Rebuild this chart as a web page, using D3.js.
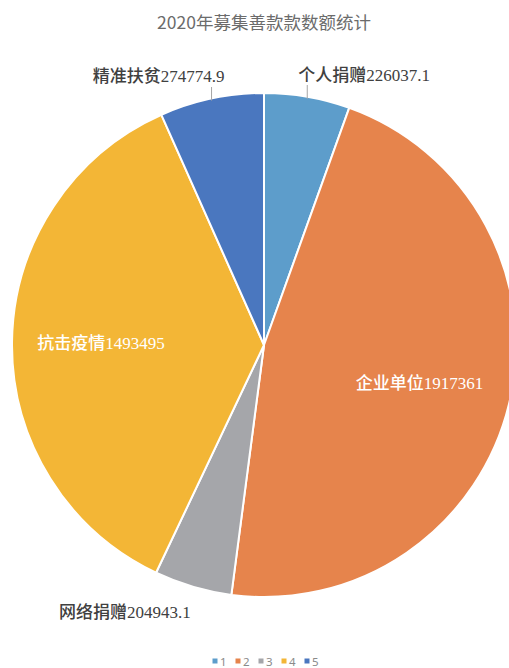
<!DOCTYPE html>
<html><head><meta charset="utf-8">
<script src="https://cdn.jsdelivr.net/npm/d3@7"></script>
<style>
html,body{margin:0;padding:0;background:#fff;overflow:hidden;}
svg{display:block;}
</style></head>
<body>
<script>
const title = "2020年募集善款款数额统计";
const categories = ["个人捐赠", "企业单位", "网络捐赠", "抗击疫情", "精准扶贫"];
const values = [226037.1, 1917361, 204943.1, 1493495, 274774.9];
const valueLabels = ["226037.1", "1917361", "204943.1", "1493495", "274774.9"];
const legendLabels = ["1", "2", "3", "4", "5"];
const colors = ["#5D9DCB", "#E6844C", "#A5A6AA", "#F3B636", "#4A77BF"];

const W = 509, H = 668;
const cx = 264, cy = 345, R = 252;

const svg = d3.select("body").append("svg").attr("width", W).attr("height", H);

svg.append("text")
  .attr("x", 264).attr("y", 29)
  .attr("text-anchor", "middle")
  .attr("font-family", "'Noto Sans CJK SC', sans-serif")
  .attr("font-size", 17.5)
  .attr("fill", "#6b6b6b")
  .text(title);

const data = categories.map((c, i) => ({cat: c, value: values[i], label: valueLabels[i], idx: i}));
const pie = d3.pie().sort(null).value(d => d.value);
const arcs = pie(data);
const arc = d3.arc().innerRadius(0).outerRadius(R);
const color = d3.scaleOrdinal().domain(d3.range(5)).range(colors);

const g = svg.append("g").attr("transform", `translate(${cx},${cy})`);
g.selectAll("path.slice").data(arcs).enter().append("path")
  .attr("class", "slice")
  .attr("d", arc)
  .attr("fill", d => color(d.data.idx))
  .attr("stroke", "#fff")
  .attr("stroke-width", 2)
  .attr("stroke-linejoin", "round");

// label placement (styling)
const labelStyle = [
  {type: "out", anchor: "start", dx: -9, ty: 81, lineTop: 85},
  {type: "in", rho: 160},
  {type: "out", anchor: "middle", dx: -68, ty: 618, lineTop: null},
  {type: "in", rho: 163},
  {type: "out", anchor: "end", dx: 13, ty: 82, lineTop: 87}
];

function addLabel(sel, d, fill) {
  sel.attr("fill", fill)
    .attr("font-size", 17);
  sel.append("tspan").attr("font-family", "'Noto Sans CJK SC', sans-serif").attr("font-weight", 500).text(d.data.cat);
  sel.append("tspan").attr("font-family", "'Liberation Serif', serif").attr("font-size", 17).text(d.data.label);
}

arcs.forEach((d, i) => {
  const st = labelStyle[i];
  const mid = (d.startAngle + d.endAngle) / 2;
  if (st.type === "in") {
    const x = st.rho * Math.sin(mid), y = -st.rho * Math.cos(mid);
    const t = g.append("text").attr("x", x).attr("y", y + 6).attr("text-anchor", "middle");
    addLabel(t, d, "#ffffff");
  } else {
    const ex = R * Math.sin(mid), ey = -R * Math.cos(mid);
    if (st.lineTop !== null) {
      g.append("line")
        .attr("x1", ex).attr("x2", ex)
        .attr("y1", ey + 2).attr("y2", st.lineTop - cy)
        .attr("stroke", "#a6a6a6").attr("stroke-width", 1);
    }
    const t = g.append("text").attr("x", ex + st.dx).attr("y", st.ty - cy).attr("text-anchor", st.anchor);
    addLabel(t, d, "#404040");
  }
});

// legend
const legX = d3.scalePoint().domain(legendLabels).range([215, 307]);
const leg = svg.append("g");
legendLabels.forEach((l, i) => {
  const x = legX(l);
  leg.append("rect").attr("x", x - 2.5).attr("y", 658.5).attr("width", 5).attr("height", 5).attr("fill", colors[i]);
  leg.append("text").attr("x", x + 5).attr("y", 665.5)
    .attr("font-family", "'Noto Sans', sans-serif").attr("font-size", 11.5).attr("fill", "#8a8a8a").text(l);
});
</script>
</body></html>
